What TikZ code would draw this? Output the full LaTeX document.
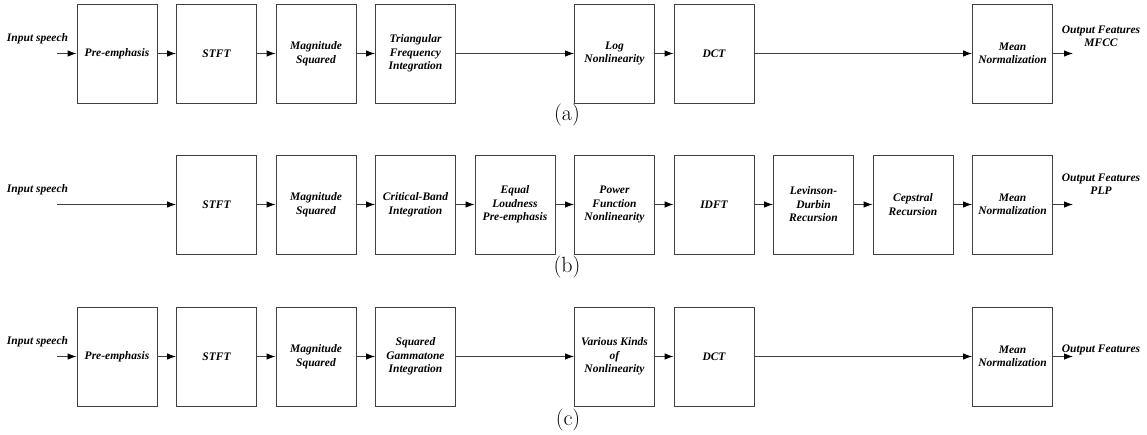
\documentclass[tikz,border=0pt]{standalone}
\usepackage{fontspec}
\usepackage{tikz}
\usetikzlibrary{arrows.meta, positioning}
\newfontfamily\blockfont{Liberation Serif}

\begin{document}
\begin{tikzpicture}[x=1pt, y=-1pt, node distance=18.6pt,
    block/.style={draw=black!75, line width=0.9pt, minimum width=80pt,
        minimum height=99pt, align=center, inner sep=2pt,
        font=\blockfont\bfseries\itshape\fontsize{11.5}{13.5}\selectfont},
    io/.style={align=center, inner sep=0pt,
        font=\blockfont\bfseries\itshape\fontsize{11.5}{13.5}\selectfont},
    flow/.style={draw=black!75, line width=0.9pt,
        -{Latex[length=9pt,width=6.5pt,color=black]}},
    tag/.style={inner sep=0pt, font=\fontsize{22}{24}\selectfont}]
    \useasboundingbox (0,0) rectangle (1147,434);

    % (a) MFCC chain
    \node[io] (inta) at (37.5,39) {Input speech};
    \coordinate (ina) at (57,53.5);
    \node[block] (a1) at (117,53.5) {Pre-emphasis};
    \node[block, right=of a1] (a2) {STFT};
    \node[block, right=of a2] (a3) {Magnitude\\Squared};
    \node[block, right=of a3] (a4) {Triangular\\Frequency\\Integration};
    \node[block, right=118.1pt of a4] (a5) {Log\\Nonlinearity};
    \node[block, right=of a5] (a6) {DCT};
    \node[block, right=217.6pt of a6] (a7) {Mean\\Normalization};
    \coordinate (outa) at (1073,53.5);
    \node[io] (outta) at (1101,36) {Output Features\\MFCC};
    \draw[flow] (ina) -- (a1);
    \draw[flow] (a1) -- (a2);
    \draw[flow] (a2) -- (a3);
    \draw[flow] (a3) -- (a4);
    \draw[flow] (a4) -- (a5);
    \draw[flow] (a5) -- (a6);
    \draw[flow] (a6) -- (a7);
    \draw[flow] (a7) -- (outa);
    \node[tag] (taga) at (567,115) {(a)};

    % (b) PLP chain
    \node[io] (intb) at (37.5,190) {Input speech};
    \coordinate (inb) at (57,204.5);
    \node[block] (b1) at (216.5,204.5) {STFT};
    \node[block, right=of b1] (b2) {Magnitude\\Squared};
    \node[block, right=of b2] (b3) {Critical-Band\\Integration};
    \node[block, right=of b3] (b4) {Equal\\Loudness\\Pre-emphasis};
    \node[block, right=of b4] (b5) {Power\\Function\\Nonlinearity};
    \node[block, right=of b5] (b6) {IDFT};
    \node[block, right=of b6] (b7) {Levinson-\\Durbin\\Recursion};
    \node[block, right=of b7] (b8) {Cepstral\\Recursion};
    \node[block, right=of b8] (b9) {Mean\\Normalization};
    \coordinate (outb) at (1073,204.5);
    \node[io] (outtb) at (1101,184) {Output Features\\PLP};
    \draw[flow] (inb) -- (b1);
    \draw[flow] (b1) -- (b2);
    \draw[flow] (b2) -- (b3);
    \draw[flow] (b3) -- (b4);
    \draw[flow] (b4) -- (b5);
    \draw[flow] (b5) -- (b6);
    \draw[flow] (b6) -- (b7);
    \draw[flow] (b7) -- (b8);
    \draw[flow] (b8) -- (b9);
    \draw[flow] (b9) -- (outb);
    \node[tag] (tagb) at (567,267) {(b)};

    % (c) gammatone chain
    \node[io] (intc) at (37.5,342) {Input speech};
    \coordinate (inc) at (57,356.5);
    \node[block] (c1) at (117,356.5) {Pre-emphasis};
    \node[block, right=of c1] (c2) {STFT};
    \node[block, right=of c2] (c3) {Magnitude\\Squared};
    \node[block, right=of c3] (c4) {Squared\\Gammatone\\Integration};
    \node[block, right=118.1pt of c4] (c5) {Various Kinds\\of\\Nonlinearity};
    \node[block, right=of c5] (c6) {DCT};
    \node[block, right=217.6pt of c6] (c7) {Mean\\Normalization};
    \coordinate (outc) at (1073,356.5);
    \node[io] (outtc) at (1101,350) {Output Features};
    \draw[flow] (inc) -- (c1);
    \draw[flow] (c1) -- (c2);
    \draw[flow] (c2) -- (c3);
    \draw[flow] (c3) -- (c4);
    \draw[flow] (c4) -- (c5);
    \draw[flow] (c5) -- (c6);
    \draw[flow] (c6) -- (c7);
    \draw[flow] (c7) -- (outc);
    \node[tag] (tagc) at (568,420) {(c)};
\end{tikzpicture}
\end{document}
